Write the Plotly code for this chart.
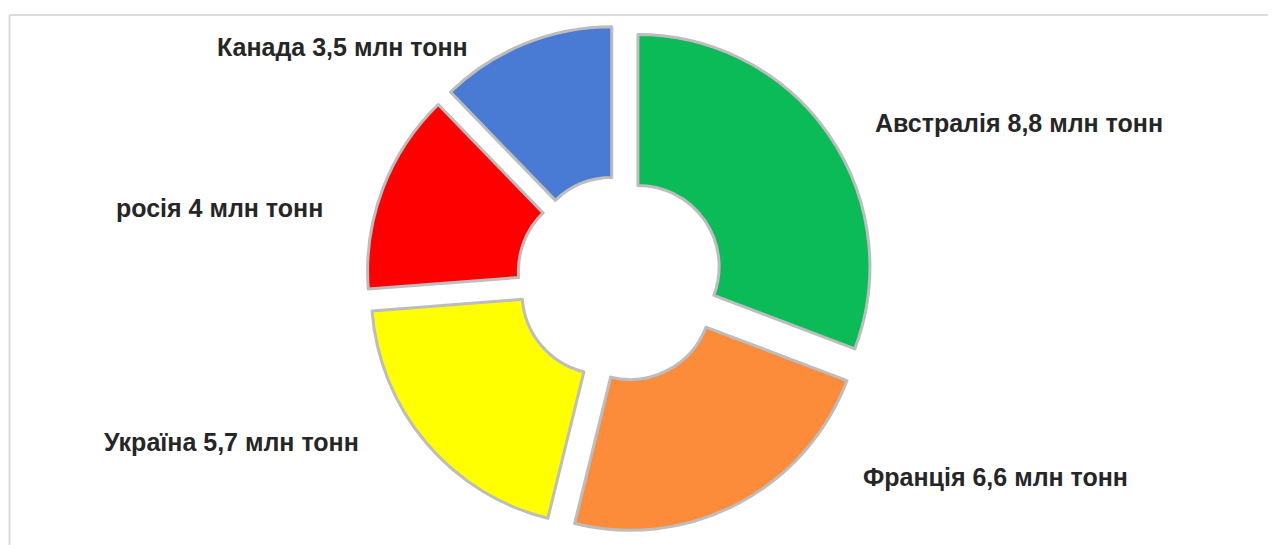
import plotly.graph_objects as go

countries = ["Австралія", "Франція", "Україна", "росія", "Канада"]
values = [8.8, 6.6, 5.7, 4, 3.5]
value_labels = ["8,8", "6,6", "5,7", "4", "3,5"]
unit = "млн тонн"
colors = ["#0BBB58", "#FC8B3A", "#FFFF00", "#FF0000", "#4A7BD4"]

W, H = 1276, 545
OFF = 8  # page body margin
# label anchor centres in pixels (x, y from top) as seen in the window
label_pos = [(1019, 123), (995, 477), (231, 442), (219, 208), (342, 47)]

fig = go.Figure()
fig.add_trace(go.Pie(
    labels=countries,
    values=values,
    hole=0.35,
    pull=[0.094] * len(values),
    sort=False,
    direction="clockwise",
    rotation=0,
    textinfo="none",
    hoverinfo="label+value",
    marker=dict(colors=colors, line=dict(color="#bdbdbd", width=3)),
    domain=dict(x=[0.2806, 0.6786], y=[0.0371, 0.9685]),
    showlegend=False,
))

annotations = []
for c, v, (px, py) in zip(countries, value_labels, label_pos):
    annotations.append(dict(
        text=f"<b>{c} {v} {unit}</b>",
        x=(px - OFF) / W, y=1 - (py - OFF) / H, xref="paper", yref="paper",
        xanchor="center", yanchor="middle", showarrow=False,
        font=dict(family="Liberation Sans, Arial, sans-serif", size=25, color="#262626"),
    ))

fy = 1 - (15 - OFF) / H
fx = (9.5 - OFF) / W
fig.update_layout(
    width=W, height=H,
    margin=dict(l=0, r=0, t=0, b=0),
    paper_bgcolor="white", plot_bgcolor="white",
    annotations=annotations,
    shapes=[
        dict(type="line", xref="paper", yref="paper", x0=fx, x1=1.05, y0=fy, y1=fy,
             line=dict(color="#dcdcdc", width=2)),
        dict(type="line", xref="paper", yref="paper", x0=fx, x1=fx, y0=-0.05, y1=fy,
             line=dict(color="#dcdcdc", width=2)),
    ],
)

fig.write_html("out.html")
